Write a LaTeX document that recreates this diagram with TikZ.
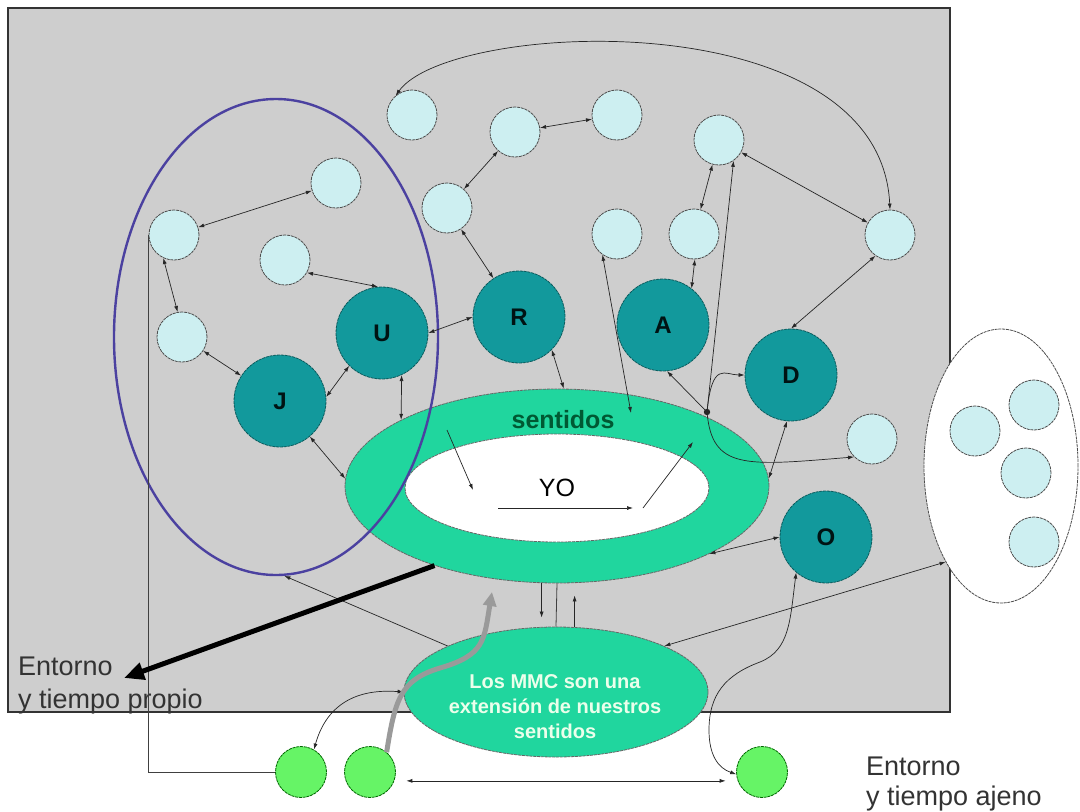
\documentclass[tikz,border=0pt]{standalone}
\usepackage{fontspec}
\setmainfont{Liberation Sans}
\usetikzlibrary{shapes.geometric,arrows.meta}

\definecolor{bggray}{HTML}{CECECE}
\definecolor{pale}{HTML}{CDEFF1}
\definecolor{tealdark}{HTML}{12999C}
\definecolor{mint}{HTML}{20D69E}
\definecolor{lime}{HTML}{66F466}
\definecolor{ringblue}{HTML}{4B41A0}
\definecolor{linec}{HTML}{262626}
\definecolor{arrowgray}{HTML}{9A9A9A}

\tikzset{
  outline/.style={dash pattern=on 3pt off 0.8pt, line width=0.8pt},
  pale/.style={circle, fill=pale, draw=black!70, outline, minimum size=50pt, inner sep=0pt},
  person/.style={circle, fill=tealdark, draw=tealdark!60!black, outline, minimum size=92pt, inner sep=0pt,
    font=\fontsize{24}{24}\selectfont\bfseries, text=black!85!teal},
  media/.style={circle, fill=lime, draw=green!40!black, outline, minimum size=51pt, inner sep=0pt},
  link/.style={{Latex[length=6pt,width=4pt]}-{Latex[length=6pt,width=4pt]}, line width=0.7pt, draw=linec},
  arr/.style={-{Latex[length=6pt,width=4pt]}, line width=0.7pt, draw=linec},
  plain/.style={line width=0.8pt, draw=black!75},
  caption/.style={font=\fontsize{27}{27}\selectfont, text=black!80, inner sep=0pt}
}

\begin{document}
\begin{tikzpicture}[x=1pt,y=-1pt]
  \useasboundingbox (0,0) rectangle (1080,812);
  \fill[white] (0,0) rectangle (1080,812);
  \draw[fill=bggray, draw=black!80, line width=1.6pt] (8,8) rectangle (950,712);

  % the self and its senses
  \node[ellipse, fill=mint, draw=black!60, outline, minimum width=424pt, minimum height=194pt, inner sep=0pt] (sent) at (557,486) {};
  \node[ellipse, fill=white, draw=black!60, outline, minimum width=304pt, minimum height=108pt, inner sep=0pt,
    font=\fontsize{25}{25}\selectfont] (yo) at (557,488) {YO};
  \node[font=\fontsize{25}{25}\selectfont\bfseries, text=black!75!green!60!teal] (sentlabel) at (563,420) {sentidos};

  \node[ellipse, draw=ringblue, line width=2.4pt, minimum width=324pt, minimum height=476pt, inner sep=0pt] (family) at (276,337) {};
  \node[ellipse, fill=white, draw=black!70, outline, minimum width=154pt, minimum height=274pt, inner sep=0pt] (far) at (1001,466) {};
  \node[ellipse, fill=mint, draw=black!60, outline, minimum width=304pt, minimum height=130pt, inner sep=0pt] (mmc) at (556,692) {};
  \node[align=center, font=\fontsize{20}{25}\selectfont\bfseries, text=green!8!white] (mmctext) at (555,707)
    {Los MMC son una\\extensión de nuestros\\sentidos};

  \node[pale] (p1) at (412,115) {};
  \node[pale] (p2) at (336,183) {};
  \node[pale] (p3) at (174,235) {};
  \node[pale] (p4) at (285,260) {};
  \node[pale] (p5) at (182,337) {};
  \node[pale] (p6) at (447,208) {};
  \node[pale] (p7) at (515,132) {};
  \node[pale] (p8) at (617,115) {};
  \node[pale] (p9) at (719,140) {};
  \node[pale] (p10) at (617,234) {};
  \node[pale] (p11) at (694,234) {};
  \node[pale] (p12) at (890,235) {};
  \node[pale] (p13) at (872,439) {};
  \node[pale] (q1) at (975,431) {};
  \node[pale] (q2) at (1034,405) {};
  \node[pale] (q3) at (1026,473) {};
  \node[pale] (q4) at (1034,542) {};

  \node[person] (U) at (382,333) {U};
  \node[person] (J) at (280,401) {J};
  \node[person] (R) at (519,317) {R};
  \node[person] (A) at (663,325) {A};
  \node[person] (D) at (791,375) {D};
  \node[person] (O) at (826,537) {O};

  \node[media] (g1) at (301,772) {};
  \node[media] (g2) at (370,772) {};
  \node[media] (g3) at (762,772) {};

  \node[caption, anchor=base west] (own1) at (18,675) {Entorno};
  \node[caption, anchor=base west] (own2) at (18,708) {y tiempo propio};
  \node[caption, anchor=base west] (alien1) at (866,775) {Entorno};
  \node[caption, anchor=base west] (alien2) at (866,805) {y tiempo ajeno};

  \coordinate (jn) at (707,412); % junction
  \coordinate (sd) at (631,413);
  \coordinate (y1) at (447,430);
  \coordinate (y2) at (473,490);
  \coordinate (y3) at (498,508);
  \coordinate (y4) at (633,508);
  \coordinate (y5) at (643,508);
  \coordinate (y6) at (693,442);
  \coordinate (gt) at (492,592);
  \coordinate (et) at (124,678);

  % links between people
  \draw[link] (p3) -- (p2);
  \draw[link] (p3.-115) -- (p5.100);
  \draw[link] (p4.-30) -- (U.95);
  \draw[link] (p5) -- (J);
  \draw[link] (U.-135) -- (J.5);
  \draw[link] (U.0) -- (R.180);
  \draw[link] (U.-65) -- (sent.157);
  \draw[link] (J.-50) -- (sent.178);
  \draw[link] (R.-45) -- (sent.86);
  \draw[link] (p6) -- (R);
  \draw[link] (p6) -- (p7);
  \draw[link] (p7) -- (p8);
  \draw[link] (p9) -- (p11);
  \draw[link] (p11.-88) -- (A.52);
  \draw[link] (p9) -- (p12);
  \draw[link] (p12.-125) -- (D.90);
  \draw[link] (D.-95) -- (sent.2);
  \draw[link] (O.180) -- (sent.-24);
  \draw[link] (p1.130) .. controls (450,20) and (880,0) .. (p12.90);
  \draw[link] (p10.-125) -- (sd);

  \fill[linec] (jn) circle (3.2pt);
  \draw[arr] (jn) -- (A.-85);
  \draw[arr] (jn) -- (p9.-55);
  \draw[arr] (jn) .. controls (712,360) and (725,375) .. (D.180);
  \draw[arr] (jn) .. controls (712,470) and (745,466) .. (p13.-135);

  % inside the self
  \draw[arr] (y1) -- (y2);
  \draw[arr] (y3) -- (y4);
  \draw[arr] (y5) -- (y6);

  % senses and media
  \draw[arr, shorten >=9pt] (sent.-99) -- (sent.-99 |- mmc.north);
  \draw[plain] (sent.south) -- (mmc.north);
  \draw[arr, shorten >=12pt] (mmc.74) -- (mmc.74 |- sent.south);
  \draw[arr] (mmc.157) -- (family.-88);
  \draw[link] (mmc.23) -- (far.-120);
  \draw[link] (mmc.180) .. controls (350,688) and (325,710) .. (g1.60);
  \draw[plain] (p3.west) |- (g1.west);
  \draw[link, shorten <=12pt, shorten >=12pt] (g2.-20) -- (g3.200);
  \draw[link] (O.-130) .. controls (790,620) and (790,650) .. (760,662)
    .. controls (725,675) and (709,695) .. (709,730)
    .. controls (709,755) and (718,768) .. (g3.185);

  \draw[-{Triangle[length=14pt,width=13pt]}, line width=5pt, draw=arrowgray]
    (g2.50) .. controls (395,700) and (400,680) .. (440,668) .. controls (485,655) and (484,640) .. (gt);
  \draw[-{Triangle[length=20pt,width=17pt]}, line width=5pt, black] (sent.-147) -- (et);
\end{tikzpicture}
\end{document}
